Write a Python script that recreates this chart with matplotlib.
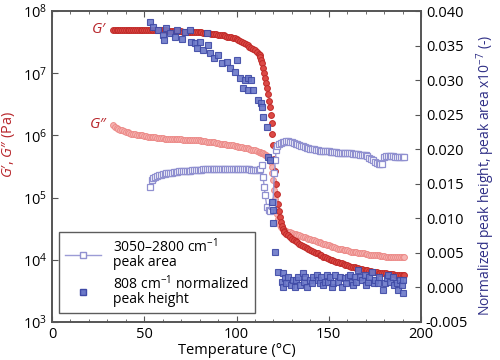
import matplotlib
matplotlib.use("Agg")
import matplotlib.pyplot as plt
import numpy as np
from matplotlib.ticker import FixedLocator, MultipleLocator, FormatStrFormatter, LogFormatterMathtext, NullLocator
from matplotlib.lines import Line2D

plt.rcParams["font.family"] = ["Open Sans", "DejaVu Sans"]
plt.rcParams["mathtext.fontset"] = "custom"
plt.rcParams["mathtext.rm"] = "Open Sans"
plt.rcParams["mathtext.it"] = "Open Sans:italic"
plt.rcParams["mathtext.bf"] = "Open Sans:bold"

# ---- rheology (left axis, log10 of Pa) ----
t_flat = np.arange(33, 112)            # 33..111 degC, 1 degC steps
t_drop = np.arange(112, 126, 0.5)      # transition, 0.5 degC steps
t_tail = np.arange(126, 192)           # 126..191 degC

g1_flat = [7.70, 7.70, 7.70, 7.70, 7.70, 7.70, 7.70, 7.70, 7.70, 7.70, 7.70, 7.70, 7.70, 7.70, 7.70, 7.70, 7.70, 7.70,
           7.69, 7.69, 7.69, 7.69, 7.69, 7.69, 7.69, 7.69, 7.69, 7.69,
           7.69, 7.69, 7.68, 7.68, 7.68, 7.68, 7.68, 7.68, 7.68, 7.68,
           7.67, 7.67, 7.67, 7.67, 7.67, 7.67, 7.66, 7.66, 7.66, 7.66,
           7.66, 7.65, 7.65, 7.65, 7.65, 7.64, 7.64, 7.63, 7.63, 7.62,
           7.62, 7.61, 7.61, 7.60, 7.59, 7.58, 7.58, 7.57, 7.56, 7.55,
           7.54, 7.52, 7.51, 7.49, 7.47, 7.45, 7.43, 7.41, 7.39, 7.37, 7.34]
g1_drop = [7.31, 7.29, 7.26, 7.22, 7.16, 7.08, 7.00, 6.92, 6.84, 6.76, 6.66, 6.55, 6.45, 6.33,
           6.20, 6.02, 5.85, 5.62, 5.42, 5.22, 5.05, 4.90, 4.78, 4.68, 4.60, 4.54, 4.50, 4.47]
g1_tail = [4.45, 4.42, 4.39, 4.36, 4.34, 4.32, 4.30, 4.28, 4.26, 4.24, 4.22, 4.21, 4.19, 4.17, 4.16,
           4.14, 4.13, 4.11, 4.10, 4.08, 4.07, 4.05, 4.04, 4.03, 4.01, 4.00, 3.99, 3.98, 3.97, 3.96,
           3.95, 3.94, 3.93, 3.92, 3.91, 3.90, 3.89, 3.88, 3.88, 3.87, 3.86, 3.85, 3.85, 3.84, 3.83,
           3.83, 3.82, 3.82, 3.81, 3.80, 3.80, 3.79, 3.79, 3.79, 3.78, 3.78, 3.77, 3.77, 3.77, 3.77,
           3.76, 3.76, 3.76, 3.76, 3.76, 3.76]

g2_flat = [6.17, 6.14, 6.12, 6.10, 6.09, 6.08, 6.07, 6.06, 6.05, 6.04, 6.03, 6.03, 6.02, 6.01, 6.01, 6.00, 6.00, 5.99,
           5.99, 5.98, 5.98, 5.97, 5.97, 5.97, 5.96, 5.96, 5.96, 5.96,
           5.95, 5.95, 5.95, 5.95, 5.94, 5.94, 5.94, 5.95, 5.94, 5.94,
           5.93, 5.93, 5.93, 5.93, 5.93, 5.93, 5.92, 5.93, 5.92, 5.92,
           5.91, 5.91, 5.91, 5.90, 5.90, 5.90, 5.89, 5.89, 5.88, 5.88,
           5.87, 5.87, 5.86, 5.86, 5.85, 5.85, 5.84, 5.84, 5.83, 5.83,
           5.82, 5.81, 5.81, 5.80, 5.79, 5.79, 5.78, 5.77, 5.76, 5.76, 5.75]
g2_drop = [5.74, 5.74, 5.73, 5.72, 5.72, 5.71, 5.70, 5.69, 5.68, 5.67, 5.66, 5.64, 5.62, 5.58,
           5.50, 5.40, 5.28, 5.12, 4.98, 4.85, 4.74, 4.66, 4.60, 4.56, 4.53, 4.51, 4.49, 4.48]
g2_tail = [4.47, 4.46, 4.45, 4.44, 4.43, 4.42, 4.41, 4.40, 4.39, 4.38, 4.37, 4.36, 4.35, 4.34, 4.33,
           4.32, 4.31, 4.30, 4.29, 4.28, 4.27, 4.26, 4.25, 4.24, 4.23, 4.22, 4.21, 4.20, 4.19, 4.18,
           4.18, 4.17, 4.16, 4.15, 4.15, 4.14, 4.13, 4.13, 4.12, 4.12, 4.11, 4.11, 4.10, 4.10, 4.09,
           4.09, 4.08, 4.08, 4.08, 4.07, 4.07, 4.07, 4.06, 4.06, 4.06, 4.05, 4.05, 4.05, 4.05, 4.04,
           4.04, 4.04, 4.04, 4.04, 4.04, 4.04]

# ---- IR (right axis) ----
t_area_a = np.arange(53, 114)
area_a = [0.0145, 0.0155, 0.0158, 0.0160, 0.0161, 0.0162, 0.0163, 0.0164, 0.0164, 0.0165,
          0.0165, 0.0166, 0.0166, 0.0167, 0.0167, 0.0167, 0.0168, 0.0168, 0.0168, 0.0169,
          0.0169, 0.0169, 0.0169, 0.0170, 0.0170, 0.0170, 0.0170, 0.0170, 0.0170, 0.0171,
          0.0171, 0.0171, 0.0171, 0.0171, 0.0171, 0.0171, 0.0172, 0.0172, 0.0172, 0.0172,
          0.0172, 0.0172, 0.0172, 0.0172, 0.0172, 0.0172, 0.0172, 0.0172, 0.0172, 0.0172,
          0.0171, 0.0171, 0.0171, 0.0171, 0.0171, 0.0170, 0.0170, 0.0170, 0.0170, 0.0170, 0.0171]
t_area_b = [113.8, 114.4, 115.0, 115.5, 116.5, 117.5, 118.2, 119.0, 119.8, 120.5, 121.0, 121.5]
area_b = [0.0177, 0.0160, 0.0145, 0.0134, 0.0116, 0.0112, 0.0110, 0.0118, 0.0124, 0.0165, 0.0184, 0.0199]
t_area_c = np.arange(122, 192)
area_c = [0.0204, 0.0207, 0.0209, 0.0210, 0.0211, 0.0212, 0.0212, 0.0211, 0.0210, 0.0209,
          0.0208, 0.0207, 0.0206, 0.0205, 0.0204, 0.0203, 0.0202, 0.0202, 0.0201, 0.0200,
          0.0200, 0.0199, 0.0199, 0.0198, 0.0198, 0.0198, 0.0197, 0.0197, 0.0197, 0.0196,
          0.0196, 0.0196, 0.0196, 0.0195, 0.0195, 0.0195, 0.0195, 0.0194, 0.0194, 0.0194,
          0.0194, 0.0193, 0.0193, 0.0193, 0.0193, 0.0192, 0.0192, 0.0192, 0.0191, 0.0190,
          0.0188, 0.0186, 0.0184, 0.0182, 0.0180, 0.0179, 0.0178, 0.0178, 0.0189, 0.0190,
          0.0190, 0.0190, 0.0190, 0.0190, 0.0189, 0.0189, 0.0189, 0.0189, 0.0189, 0.0189]

t_height = [53, 55, 57.5, 60, 60.5, 62, 64, 66.5, 67.5, 70.5, 72, 74.8, 75.5, 77.5, 78.5,
            80, 82, 84, 84.6, 85.6, 88, 90, 92, 94.7, 96.5, 99, 100, 102, 103.5, 104.6,
            106, 106.5, 108, 109, 111.7, 113.5, 114, 114.4, 116.5, 117, 118, 119, 119.8, 120, 120.9,
            122.6, 124.6, 125, 125.4, 126.3, 127, 128, 129.5, 130.8, 131.7, 132.5, 133.3, 134.5,
            136, 136.5, 137, 138, 139.8, 141, 141.5, 143.6, 144, 145, 146, 147, 148, 149, 149.5,
            150.5, 151.7, 152.5, 153.4, 155, 156, 157, 158.8, 159.5, 160.4, 161.5, 162.6, 163,
            164, 165, 166, 167, 168, 169.6, 170, 171.3, 172, 173.4, 174.5, 175, 176.7, 177.5,
            179.4, 180.5, 181.6, 182, 183, 184.8, 185.5, 187, 187.5, 188.5, 189.7, 190.2, 190.5]
height = [0.0384, 0.0377, 0.0372, 0.0365, 0.0358, 0.0375, 0.0368, 0.0362, 0.0372, 0.0360,
          0.0370, 0.0372, 0.0355, 0.0354, 0.0346, 0.0355, 0.0344, 0.0368, 0.0351, 0.0339,
          0.0332, 0.0336, 0.0325, 0.0326, 0.0318, 0.0312, 0.0329, 0.0303, 0.0289, 0.0300,
          0.0303, 0.0286, 0.0300, 0.0286, 0.0271, 0.0267, 0.0261, 0.0247, 0.0232, 0.0189,
          0.0184, 0.0124, 0.0112, 0.0093, 0.0051,
          0.0022, 0.0008, 0.0001, 0.0021, 0.0014, 0.0006, 0.0015, 0.0004, 0.0011, 0.0001,
          0.0011, 0.0015, 0.0004, 0.0021, 0.0008, 0.0015, 0.0001, 0.0011, 0.0006, 0.0015,
          0.0018, 0.0011, 0.0006, 0.0015, 0.0004, 0.0008, 0.0018, 0.0008, 0.0015, 0.0001,
          0.0006, 0.0018, 0.0008, 0.0015, 0.0001, 0.0014, 0.0006, 0.0015, 0.0018, 0.0008,
          0.0004, 0.0015, 0.0008, 0.0025, 0.0015, 0.0011, 0.0018, 0.0004, 0.0008, 0.0015,
          0.0022, 0.0006, 0.0011, 0.0006, 0.0015, -0.0004, 0.0006, 0.0014, 0.0018, 0.0008,
          0.0015, 0.0004, 0.0006, -0.0004, 0.0011, 0.0004, -0.0008, 0.0011]

t_g = np.concatenate([t_flat, t_drop, t_tail])
g_prime = 10 ** np.array(g1_flat + g1_drop + g1_tail)
g_double = 10 ** np.array(g2_flat + g2_drop + g2_tail)
t_area = np.concatenate([t_area_a, t_area_b, t_area_c])
area = np.array(area_a + area_b + area_c)

RED = "#b8262b"
NAVY = "#2f2f86"

fig = plt.figure(figsize=(5.0, 3.6), dpi=100)
ax = fig.add_axes([0.104, 0.106, 0.738, 0.863])
ax2 = ax.twinx()

ax.plot(t_g, g_double, "o", ms=4.2, mfc="#f6b4b2", mec="#ec8a88", mew=0.7)
ax.plot(t_g, g_prime, "o", ms=4.2, mfc="#dc4a46", mec="#c02a28", mew=0.7)
ax.set_yscale("log")
ax.set_xlim(0, 200)
ax.set_ylim(1e3, 1e8)
ax.yaxis.set_major_locator(FixedLocator([1e3, 1e4, 1e5, 1e6, 1e7, 1e8]))
ax.yaxis.set_major_formatter(LogFormatterMathtext())
ax.yaxis.set_minor_locator(NullLocator())
ax.xaxis.set_major_locator(MultipleLocator(50))
ax.xaxis.set_minor_locator(MultipleLocator(10))

ax2.plot(t_area, area, "-s", color="#9c9cd6", lw=1.0, ms=3.8, mfc="white", mec="#9090d0", mew=0.9)
ax2.plot(t_height, height, "s", ms=4.4, mfc="#6b78c8", mec="#3f4aa6", mew=0.8, alpha=0.9)
ax2.set_ylim(-0.005, 0.040)
ax2.yaxis.set_major_locator(MultipleLocator(0.005))
ax2.yaxis.set_major_formatter(FormatStrFormatter("%.3f"))

for a in (ax, ax2):
    for s in a.spines.values():
        s.set_color("#555555")
        s.set_linewidth(1.2)
ax.tick_params(which="both", direction="in", top=True, right=False, labelsize=10.5, colors="#555555",
               labelcolor="black")
ax.tick_params(which="major", length=4)
ax.tick_params(which="minor", length=2)
ax2.tick_params(direction="in", length=4, labelsize=10.5, colors="#555555", labelcolor="black")

ax.set_xlabel("Temperature (°C)", fontsize=10.5, labelpad=1)
ax.set_ylabel("$G$\u2032, $G$\u2033 (Pa)", fontsize=10.5, color=RED)
ax.yaxis.set_label_coords(-0.095, 0.57)
ax2.set_ylabel(r"Normalized peak height, peak area x10$^{-7}$ (-)", fontsize=10, color=NAVY)
ax2.yaxis.set_label_coords(1.145, 0.47)

ax.text(30, 10 ** 7.70, "$G$\u2032", fontsize=11, color=RED, ha="right", va="center")
ax.text(30, 10 ** 6.17, "$G$\u2033", fontsize=11, color=RED, ha="right", va="center")

handles = [
    Line2D([], [], color="#9c9cd6", lw=1.0, marker="s", ms=4.5, mfc="white", mec="#9090d0"),
    Line2D([], [], ls="none", marker="s", ms=4.5, mfc="#6b78c8", mec="#3f4aa6"),
]
labels = ["3050–2800 cm$^{-1}$\npeak area", "808 cm$^{-1}$ normalized\npeak height"]
leg = ax2.legend(handles, labels, loc="lower left", bbox_to_anchor=(0.019, 0.029), borderaxespad=0,
                 fontsize=10, frameon=True, fancybox=False, handlelength=2.6, labelspacing=0.3,
                 borderpad=0.4, handletextpad=0.9)
for txt in leg.get_texts():
    txt.set_linespacing(0.92)
leg.get_frame().set_edgecolor("#333333")
leg.get_frame().set_linewidth(1.0)

fig.savefig("out.png", dpi=100)
